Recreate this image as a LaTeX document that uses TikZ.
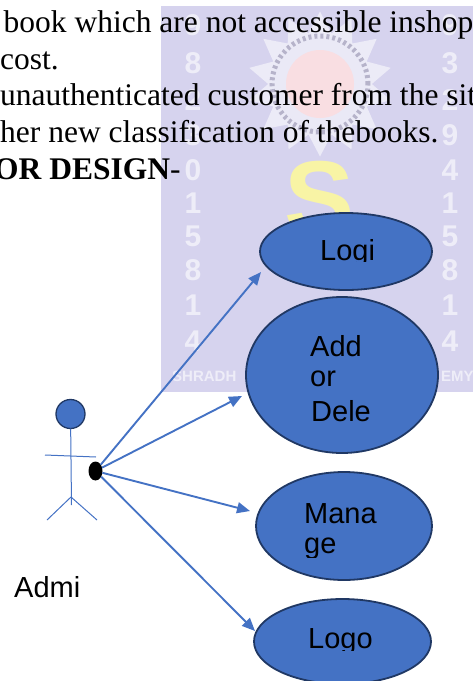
\documentclass[tikz,border=0pt]{standalone}
\usepackage{fontspec}
\setmainfont{Liberation Serif}
\newfontfamily\labelfont{Liberation Sans}
\usepackage{tikz}
\usetikzlibrary{arrows.meta}
\usetikzlibrary{shapes.geometric}

\definecolor{usecaseblue}{HTML}{4472C4}
\definecolor{usecaseedge}{HTML}{203864}
\definecolor{markpaper}{HTML}{D6D3EE}

\tikzset{
    pagetext/.style={anchor=base west, inner sep=0, font=\fontsize{31.5}{33}\selectfont},
    casetext/.style={anchor=base west, inner sep=0, font=\labelfont\fontsize{29}{30}\selectfont},
    usecase/.style={draw=usecaseedge, line width=1.8pt, ellipse, fill=usecaseblue, inner sep=0, outer sep=0},
    flow/.style={draw=usecaseblue, line width=1.9pt, -{Triangle[length=13pt,width=11pt]}},
    stick/.style={draw=usecaseblue, line width=1pt},
    markdigit/.style={text=white, opacity=0.6, inner sep=0, font=\labelfont\bfseries\fontsize{30}{30}\selectfont},
    markword/.style={text=white, opacity=0.6, inner sep=0, anchor=west, font=\labelfont\bfseries\fontsize{15}{15}\selectfont}
}

\begin{document}
\begin{tikzpicture}[x=1pt,y=-1pt]
        \useasboundingbox (0,0) rectangle (473,681);
        \clip (0,0) rectangle (473,681);

        % watermark
        \fill[markpaper] (161,6) rectangle (473,392);
        \node[star, star points=14, star point ratio=1.4, minimum size=145pt, fill=white, opacity=0.55, inner sep=0] (sun) at (320,84) {};
        \node[circle, draw=black!15!markpaper, line width=5pt, dashed, fill=white!50!markpaper, minimum size=96pt, inner sep=0] (ring) at (320,84) {};
        \node[circle, fill=red!12!white!85!markpaper, minimum size=68pt, inner sep=0] (om) at (320,84) {};
        \node[text=yellow!40!white, opacity=0.85, inner sep=0, font=\labelfont\bfseries\fontsize{105}{105}\selectfont] (bigs) at (320,198) {S};
        \foreach \y/\l/\r in {25/9/9,63/8/3,100/2/2,135/3/9,170/0/4,203/1/1,236/5/5,270/8/8,305/1/1,341/4/4} {
            \node[markdigit] at (193,\y) {\l};
            \node[markdigit] at (450,\y) {\r};
        }
        \node[markword] (markleft) at (172,376) {SHRADH};
        \node[markword] (markright) at (441,376) {EMY};

        % page text
        \node[pagetext] (line1) at (3.5,32) {book which are not accessible inshop};
        \node[pagetext] (line2) at (0,69) {cost.};
        \node[pagetext] (line3) at (0,105) {unauthenticated customer from the site};
        \node[pagetext] (line4) at (0,142) {her new classification of thebooks.};
        \node[pagetext] (line5) at (-6,179) {\textbf{OR DESIGN}-};

        % use cases
        \node[usecase, minimum width=172pt, minimum height=77pt] (login) at (346,251.5) {};
        \node[usecase, minimum width=192pt, minimum height=156pt] (adddel) at (342,375) {};
        \node[usecase, minimum width=176pt, minimum height=108pt] (manage) at (344,526) {};
        \node[usecase, minimum width=177pt, minimum height=85pt] (logout) at (342.5,641.5) {};

        % labels, cut off at their box like the picture
        \begin{scope}
            \clip (300,230) rectangle (400,261) (295,495) rectangle (400,557) (295,620) rectangle (400,650);
            \node[casetext] (logintext) at (320,260) {Logi};
            \node[casetext] (managetext) at (304,523) {Mana};
            \node[casetext] (manageend) at (304,553) {ge};
            \node[casetext] (logouttext) at (308,648) {Logo};
        \end{scope}
        \node[casetext] (addtext) at (310,356) {Add};
        \node[casetext] (ortext) at (310,386) {or};
        \node[casetext] (deltext) at (311,421) {Dele};
        \node[casetext] (admintext) at (14,597) {Admi};

        % actor
        \node[circle, draw=usecaseedge, line width=1.3pt, fill=usecaseblue, minimum size=29pt, inner sep=0, outer sep=0] (head) at (70.5,414) {};
        \coordinate (hip) at (71,497);
        \coordinate (foot) at (71.5,505);
        \coordinate (armleft) at (45,455);
        \coordinate (armright) at (96,457);
        \coordinate (legleft) at (47,520);
        \coordinate (legright) at (97,520);
        \draw[stick] (head) -- (foot);
        \draw[stick] (armleft) -- (armright);
        \draw[stick] (legleft) -- (hip);
        \draw[stick] (legright) -- (hip);

        \node[ellipse, fill=black, minimum width=14pt, minimum height=19pt, inner sep=0, outer sep=0] (hand) at (95.5,471) {};

        \coordinate (logintip) at (261,272);
        \coordinate (adddeltip) at (242,396);
        \coordinate (managetip) at (250,511);
        \coordinate (logouttip) at (255,631);
        \draw[flow] (hand) -- (logintip);
        \draw[flow] (hand) -- (adddeltip);
        \draw[flow] (hand) -- (managetip);
        \draw[flow] (hand) -- (logouttip);
    \end{tikzpicture}
\end{document}
